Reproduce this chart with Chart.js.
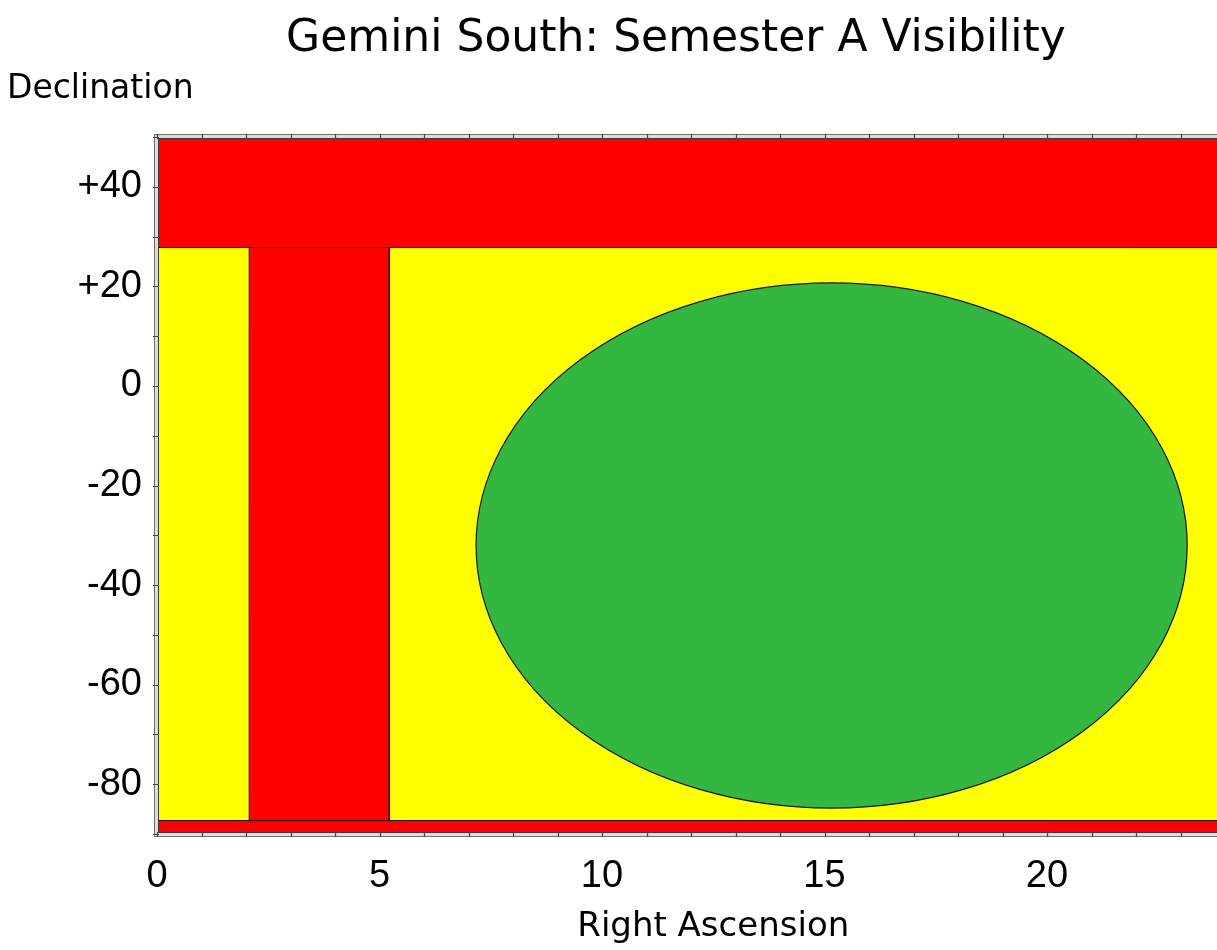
<!DOCTYPE html>
<html><head><meta charset="utf-8">
<script src="https://cdn.jsdelivr.net/npm/chart.js@4.4.1/dist/chart.umd.min.js"></script>
<style>html,body{margin:0;padding:0;overflow:hidden;background:#fff;width:1217px;height:950px}canvas{display:block}</style>
</head><body>
<canvas id="c" width="1352" height="950"></canvas>
<script>
// ---- text ----
const titleText = 'Gemini South: Semester A Visibility';
const yAxisLabel = 'Declination';
const xAxisLabel = 'Right Ascension';
// ---- axes ----
const raRange = [0, 25];
const decRange = [-90, 50];
const xTickLabels = [0, 5, 10, 15, 20];
const yTickValues = [40, 20, 0, -20, -40, -60, -80];
const yTickLabels = ['+40', '+20', '0', '-20', '-40', '-60', '-80'];
// ---- regions: [raStart, raEnd, decLow, decHigh] ----
const yellowZone = [0, 24, -87.3, 27.8];
const redNorth   = [0, 24, 27.8, 50];
const redSouth   = [0, 24, -90, -87.3];
const redBar     = [2.07, 5.22, -87.3, 27.8];
// ---- green ellipse: centre [ra, dec], radii [ra, dec] ----
const greenCenter = [15.16, -32.05];
const greenRadii  = [7.99, 52.75];

const RED = '#ff0000', YELLOW = '#ffff00', GREEN = '#34b741', EDGE = 'rgba(0,0,0,0.8)';

function rectPoints(r) {
  return [{x:r[0],y:r[2]},{x:r[0],y:r[3]},{x:r[1],y:r[3]},{x:r[1],y:r[2]},{x:r[0],y:r[2]}];
}
function region(label, r, color, order) {
  return {label, data: rectPoints(r), showLine: true, fill: 'shape', tension: 0,
    backgroundColor: color, borderColor: EDGE, borderWidth: 1, pointRadius: 0, pointHoverRadius: 0, order};
}

const framePlugin = {
  id: 'frameAndEllipse',
  afterDatasetsDraw(chart) {
    const {ctx, chartArea: a, scales: {x, y}} = chart;
    // ellipse
    const cx = x.getPixelForValue(greenCenter[0]);
    const cy = y.getPixelForValue(greenCenter[1]);
    const rx = Math.abs(x.getPixelForValue(greenCenter[0] + greenRadii[0]) - cx);
    const ry = Math.abs(y.getPixelForValue(greenCenter[1] + greenRadii[1]) - cy);
    ctx.save();
    ctx.beginPath();
    ctx.ellipse(cx, cy, rx, ry, 0, 0, Math.PI * 2);
    ctx.fillStyle = GREEN; ctx.fill();
    ctx.lineWidth = 1.2; ctx.strokeStyle = '#1a1a1a'; ctx.stroke();
    ctx.restore();
    // frame band
    const L = Math.round(a.left), T = Math.round(a.top), R = Math.round(a.right), B = Math.round(a.bottom);
    ctx.save();
    ctx.beginPath();
    ctx.rect(L - 2, T - 2, R - L + 4, B - T + 4);
    ctx.rect(L + 2, T + 2, R - L - 4, B - T - 4);
    ctx.fillStyle = '#dcdcdc';
    ctx.fill('evenodd');
    ctx.lineWidth = 1;
    ctx.strokeStyle = '#707070';
    ctx.strokeRect(L - 2.5, T - 2.5, R - L + 5, B - T + 5);
    ctx.strokeStyle = '#3a3a3a';
    ctx.strokeRect(L + 1.5, T + 1.5, R - L - 3, B - T - 3);
    // tick marks
    ctx.strokeStyle = '#444';
    ctx.lineWidth = 1.2;
    ctx.beginPath();
    x.ticks.forEach(t => {
      const px = Math.round(x.getPixelForValue(t.value)) + 0.5;
      ctx.moveTo(px, T - 3); ctx.lineTo(px, T + 2);
      ctx.moveTo(px, B - 2); ctx.lineTo(px, B + 3);
    });
    y.ticks.forEach(t => {
      const py = Math.round(y.getPixelForValue(t.value)) + 0.5;
      ctx.moveTo(L - 4, py); ctx.lineTo(L + 2, py);
    });
    ctx.stroke();
    ctx.restore();
  }
};

Chart.defaults.font.family = 'Liberation Sans';
Chart.defaults.color = '#000';

new Chart(document.getElementById('c'), {
  type: 'scatter',
  data: {
    datasets: [
      region('Red bar', redBar, RED, 1),
      region('North limit', redNorth, RED, 2),
      region('South limit', redSouth, RED, 2),
      region('Observable', yellowZone, YELLOW, 3)
    ]
  },
  options: {
    responsive: false,
    animation: false,
    events: [],
    layout: {padding: {left: 7, right: 7, top: 0, bottom: 0}},
    plugins: {
      legend: {display: false},
      tooltip: {enabled: false},
      title: {display: true, text: titleText, color: '#000',
        font: {family: 'DejaVu Sans', size: 44, weight: 'normal'}, padding: {top: 13, bottom: 0}},
      subtitle: {display: true, text: yAxisLabel, align: 'start', color: '#000',
        font: {family: 'DejaVu Sans', size: 33, weight: 'normal'}, padding: {top: 3.4, bottom: 28.2}}
    },
    scales: {
      x: {
        type: 'linear', min: raRange[0], max: raRange[1],
        grid: {display: false, drawTicks: false}, border: {display: false},
        ticks: {stepSize: 1, autoSkip: false, maxRotation: 0, padding: 20,
          font: {size: 38}, color: '#000',
          callback: v => xTickLabels.includes(v) ? String(v) : ''},
        title: {display: true, text: xAxisLabel, color: '#000',
          font: {family: 'DejaVu Sans', size: 34}, padding: {top: 0, bottom: 2}},
        afterFit: s => { s.height = 116; }
      },
      y: {
        type: 'linear', min: decRange[0], max: decRange[1],
        grid: {display: false, drawTicks: false}, border: {display: false},
        ticks: {stepSize: 10, autoSkip: false, padding: 15, font: {size: 38}, color: '#000',
          callback: v => { const i = yTickValues.indexOf(v); return i >= 0 ? yTickLabels[i] : ''; }},
        afterFit: s => { s.width = 150; }
      },
      y2: {
        position: 'right', display: true,
        grid: {display: false, drawTicks: false}, border: {display: false}, ticks: {display: false},
        afterFit: s => { s.width = 75.5; }
      }
    }
  },
  plugins: [framePlugin]
});
</script>
</body></html>
